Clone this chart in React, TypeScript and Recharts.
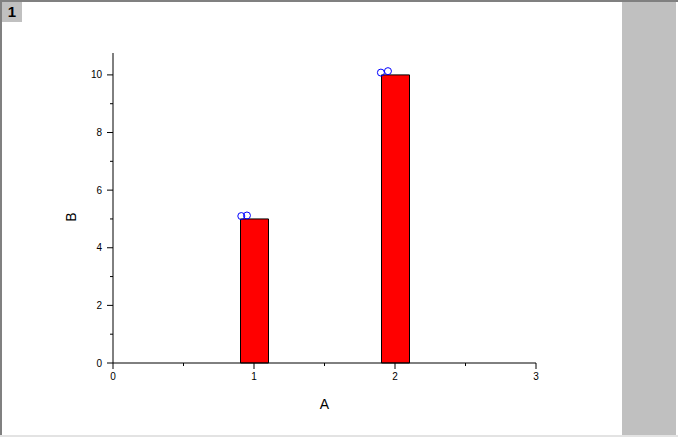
import { ComposedChart, Bar, Scatter, XAxis, YAxis, Label } from 'recharts';

const xValues = [1, 2];
const barValues = [5, 10];
const pointX = [0.91, 0.95, 1.9, 1.95];
const pointY = [5.1, 5.12, 10.08, 10.13];
const xTicks = [0, 0.5, 1, 1.5, 2, 2.5, 3];
const yTicks = [0, 1, 2, 3, 4, 5, 6, 7, 8, 9, 10];

const barData = xValues.map((x, i) => ({ x, b: barValues[i] }));
const pointData = pointX.map((x, i) => ({ x, y: pointY[i] }));

const FONT = 'Arial, "Liberation Sans", sans-serif';

const XTick = (props: any) => {
  const { x, y, payload } = props;
  const major = Number.isInteger(payload.value);
  return (
    <g>
      <line x1={x} x2={x} y1={y} y2={y + (major ? 6 : 3)} stroke="#000" />
      {major && (
        <text x={x} y={y + 17} textAnchor="middle" fontSize={10} fontFamily={FONT} fill="#000">
          {payload.value}
        </text>
      )}
    </g>
  );
};

const YTick = (props: any) => {
  const { x, y, payload } = props;
  const major = payload.value % 2 === 0;
  return (
    <g>
      <line x1={x - (major ? 6 : 3)} x2={x} y1={y} y2={y} stroke="#000" />
      {major && (
        <text x={x - 11} y={y + 3.5} textAnchor="end" fontSize={10} fontFamily={FONT} fill="#000">
          {payload.value}
        </text>
      )}
    </g>
  );
};

const Dot = (props: any) => (
  <circle cx={props.cx} cy={props.cy} r={3.5} fill="none" stroke="#0000ff" strokeWidth={1} />
);

export default function App() {
  return (
    <div style={{ position: 'absolute', left: 0, top: 0, width: 678, height: 437, background: '#fff', overflow: 'hidden' }}>
      <div style={{ position: 'absolute', left: 0, top: 0, width: 678, height: 2, background: '#808080' }} />
      <div style={{ position: 'absolute', left: 0, top: 0, width: 2, height: 437, background: '#808080' }} />
      <div style={{ position: 'absolute', left: 0, top: 435, width: 678, height: 2, background: '#e3e3e3' }} />
      <div style={{ position: 'absolute', left: 622, top: 2, width: 54, height: 433, background: '#c0c0c0' }} />
      <div
        style={{
          position: 'absolute', left: 2, top: 2, width: 20, height: 20, background: '#c0c0c0',
          fontFamily: FONT, fontWeight: 'bold', fontSize: 15, lineHeight: '20px', textAlign: 'center',
        }}
      >
        1
      </div>
      <div style={{ position: 'absolute', left: 0, top: 0 }}>
        <ComposedChart width={622} height={437} data={barData} margin={{ top: 53, right: 86, left: 0, bottom: 0 }}>
          <XAxis
            type="number"
            dataKey="x"
            domain={[0, 3]}
            ticks={xTicks}
            interval={0}
            height={74}
            tickSize={0}
            tickMargin={0}
            tickLine={false}
            axisLine={{ stroke: '#000' }}
            tick={<XTick />}
          >
            <Label
              content={(p: any) => (
                <text x={p.viewBox.x + p.viewBox.width / 2} y={p.viewBox.y + 46} textAnchor="middle" fontSize={14} fontFamily={FONT} fill="#000">
                  A
                </text>
              )}
            />
          </XAxis>
          <XAxis xAxisId="pts" type="number" dataKey="x" domain={[0, 3]} hide />
          <YAxis
            type="number"
            domain={[0, 10.76]}
            ticks={yTicks}
            interval={0}
            width={113}
            tickSize={0}
            tickMargin={0}
            tickLine={false}
            axisLine={{ stroke: '#000' }}
            tick={<YTick />}
          >
            <Label
              content={(p: any) => {
                const cx = p.viewBox.x + 76;
                const cy = p.viewBox.y + p.viewBox.height / 2 + 9;
                return (
                  <text x={cx} y={cy} transform={`rotate(-90 ${cx} ${cy})`} textAnchor="middle" fontSize={14} fontFamily={FONT} fill="#000">
                    B
                  </text>
                );
              }}
            />
          </YAxis>
          <Bar dataKey="b" barSize={28} fill="#ff0000" stroke="#000" strokeWidth={1} isAnimationActive={false} />
          <Scatter xAxisId="pts" data={pointData} dataKey="y" shape={<Dot />} isAnimationActive={false} />
        </ComposedChart>
      </div>
    </div>
  );
}
